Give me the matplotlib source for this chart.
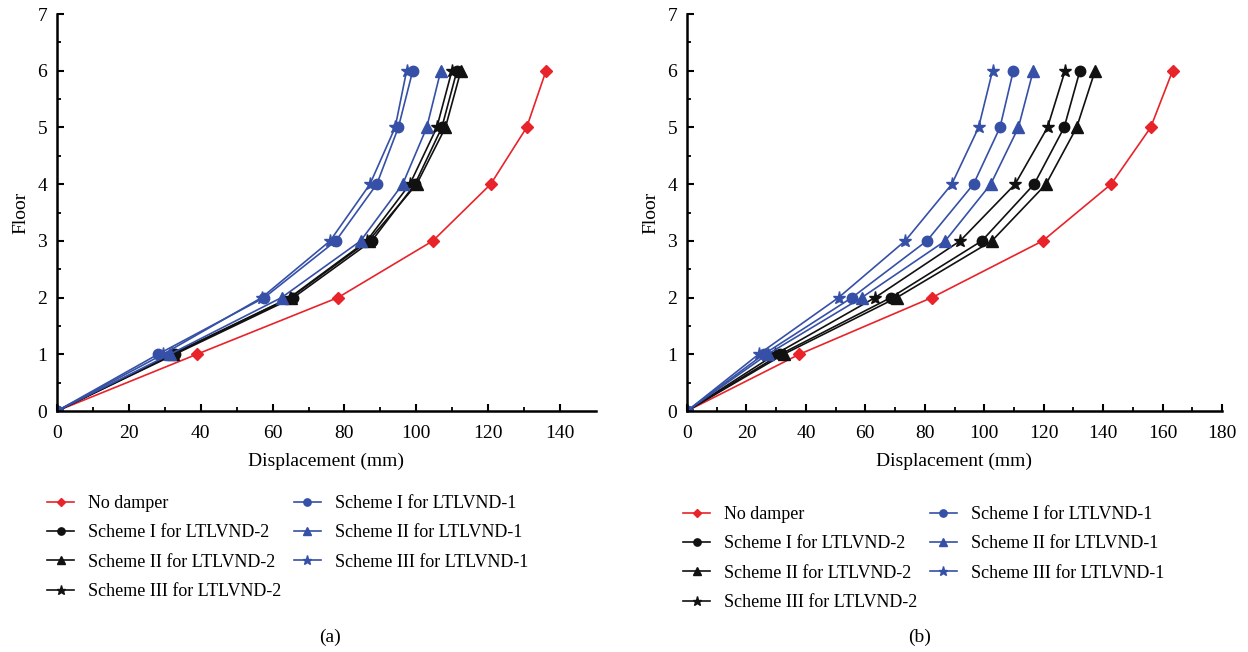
import matplotlib.pyplot as plt

plt.rcParams['font.family'] = ['Liberation Serif', 'DejaVu Serif']

floors = [0, 1, 2, 3, 4, 5, 6]

# (a) przemieszczenia [mm]
a_no_damper = [0, 38.9, 78.2, 104.6, 120.7, 130.7, 136.1]
a_s1_l2 = [0, 32.8, 65.8, 87.6, 99.6, 107.1, 111.3]
a_s2_l2 = [0, 32.3, 65.0, 86.7, 100.1, 108.1, 112.4]
a_s3_l2 = [0, 32.0, 64.8, 86.2, 98.2, 105.7, 109.9]
a_s1_l1 = [0, 28.1, 57.7, 77.6, 89.0, 95.0, 99.0]
a_s2_l1 = [0, 31.4, 62.5, 84.5, 96.2, 102.9, 106.8]
a_s3_l1 = [0, 29.5, 57.0, 76.0, 87.1, 94.1, 97.3]

# (b) przemieszczenia [mm]
b_no_damper = [0, 37.8, 82.4, 119.7, 142.7, 156.0, 163.4]
b_s1_l2 = [0, 31.4, 68.6, 99.2, 116.8, 126.9, 132.2]
b_s2_l2 = [0, 32.5, 70.6, 102.6, 120.8, 131.1, 137.3]
b_s3_l2 = [0, 29.7, 63.3, 91.9, 110.4, 121.3, 127.2]
b_s1_l1 = [0, 25.8, 55.5, 80.7, 96.4, 105.3, 109.8]
b_s2_l1 = [0, 27.1, 58.8, 86.9, 102.2, 111.5, 116.5]
b_s3_l1 = [0, 24.1, 51.0, 73.4, 89.1, 98.1, 102.8]

labels = ['No damper',
          'Scheme I for LTLVND-2', 'Scheme II for LTLVND-2', 'Scheme III for LTLVND-2',
          'Scheme I for LTLVND-1', 'Scheme II for LTLVND-1', 'Scheme III for LTLVND-1']

RED = '#e8232a'
BLUE = '#3550a6'
BLACK = '#111111'
styles = [(RED, 'D', 6.5), (BLACK, 'o', 7.5), (BLACK, '^', 8.5), (BLACK, '*', 9.5),
          (BLUE, 'o', 7.5), (BLUE, '^', 8.5), (BLUE, '*', 9.5)]

fig = plt.figure(figsize=(12.48, 6.52), dpi=100)
W, H = 1248, 652


def panel(left_px, right_px, xmax, series, legend_x, legend_top, caption_x, caption):
    ax = fig.add_axes([left_px / W, 1 - 411 / H, (right_px - left_px) / W, 397 / H])
    for ys, (c, m, ms), lab in zip(series, styles, labels):
        ax.plot(ys, floors, color=c, marker=m, markersize=ms, lw=1.2, label=lab)
    ax.set_xlim(0, xmax)
    ax.set_ylim(0, 7)
    ax.set_xticks(range(0, xmax + 1, 20))
    ax.set_xticks(range(10, xmax, 20), minor=True)
    ax.set_yticks(range(0, 8))
    ax.set_yticks([i + 0.5 for i in range(7)], minor=True)
    ax.tick_params(direction='in', which='major', length=5, width=1.5, labelsize=14)
    ax.tick_params(axis='x', which='major', pad=10)
    ax.tick_params(axis='y', which='major', pad=7)
    ax.tick_params(direction='in', which='minor', length=3, width=1.3)
    for s in ['top', 'right']:
        ax.spines[s].set_visible(False)
    for s in ['left', 'bottom']:
        ax.spines[s].set_linewidth(1.8)
    ax.set_xlabel('Displacement (mm)', fontsize=14, labelpad=8)
    ax.set_ylabel('Floor', fontsize=14, labelpad=6)
    ax.legend(loc='upper left', bbox_to_anchor=(legend_x / W, 1 - legend_top / H),
              bbox_transform=fig.transFigure, ncol=2, frameon=False, fontsize=13,
              borderpad=0, handlelength=1.5, handletextpad=0.75, columnspacing=0.72,
              labelspacing=0.68, markerscale=0.7)
    fig.text(caption_x / W, 1 - 637 / H, caption, ha='center', va='center', fontsize=14)
    return ax


panel(57, 596, 150, [a_no_damper, a_s1_l2, a_s2_l2, a_s3_l2, a_s1_l1, a_s2_l1, a_s3_l1],
      38, 486, 330, '(a)')
panel(687, 1222, 180, [b_no_damper, b_s1_l2, b_s2_l2, b_s3_l2, b_s1_l1, b_s2_l1, b_s3_l1],
      674, 497, 920, '(b)')

fig.savefig('out.png', dpi=100)
